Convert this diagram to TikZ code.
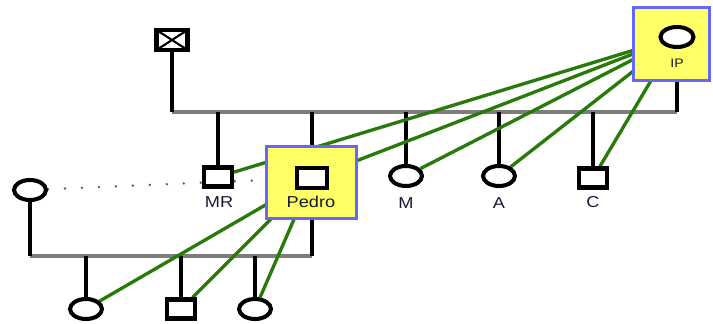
\documentclass[tikz,border=0pt]{standalone}
\usepackage{fontspec}
\setsansfont{Liberation Sans}
\usetikzlibrary{shapes.geometric}
\pgfdeclarelayer{lines}
\pgfdeclarelayer{boxes}
\pgfsetlayers{lines,boxes,main}
\definecolor{boxfill}{RGB}{255,255,102}
\definecolor{boxline}{RGB}{102,102,255}
\definecolor{kingreen}{RGB}{40,122,10}
\definecolor{sibgray}{RGB}{125,125,125}
\definecolor{dotgray}{RGB}{90,90,90}
\definecolor{labeltext}{RGB}{25,25,50}
\newcommand{\wide}[1]{\scalebox{1.15}[1]{#1}}
\begin{document}
\begin{tikzpicture}
		[	x=0.02cm,y=-0.02cm,
		male/.style={rectangle,draw=black,fill=white,line width=2.4pt,minimum width=.56cm,minimum height=.38cm,inner sep=0},
		female/.style={ellipse,draw=black,fill=white,line width=2.3pt,minimum width=.64cm,minimum height=.4cm,inner sep=0},
		dead/.style={male,minimum width=.62cm,minimum height=.4cm,path picture={\draw[line width=1.2pt] (path picture bounding box.north west) -- (path picture bounding box.south east) (path picture bounding box.south west) -- (path picture bounding box.north east);}},
		hilite/.style={rectangle,draw=boxline,fill=boxfill,line width=1.8pt,inner sep=0},
		lbl/.style={font=\sffamily\fontsize{9}{9}\selectfont,text=labeltext,inner sep=0},
		sibline/.style={draw=sibgray,line width=1.8pt},
		drop/.style={draw=black,line width=2.4pt},
		kin/.style={draw=kingreen,line width=1.9pt},
		partner/.style={draw=dotgray,line width=1.5pt,line cap=round,dash pattern=on 0pt off 0.34cm}
		]
		\useasboundingbox (0,0) rectangle (713,324);
		\coordinate (top) at (0,112);
		\coordinate (low) at (0,256);
\begin{pgfonlayer}{boxes}
		\node[hilite,minimum width=1.52cm,minimum height=1.46cm] (ipbox) at (671.5,44) {};
		\node[hilite,minimum width=1.8cm,minimum height=1.44cm] (pedrobox) at (311.5,182.5) {};
\end{pgfonlayer}
		% first family
		\node[dead] (gf) at (172,40) {};
		\node[female,minimum width=.66cm,minimum height=.4cm] (ip) at (677,37) {};
		\node[male] (mr) at (218,177) {};
		\node[male,minimum width=.6cm,minimum height=.4cm] (pedro) at (312,178) {};
		\node[female] (m) at (406,176) {};
		\node[female] (a) at (499,176) {};
		\node[male] (c) at (593,178) {};
		% second family
		\node[female] (wife) at (30,190) {};
		\node[female] (k1) at (86,309) {};
		\node[male] (k2) at (181,309) {};
		\node[female] (k3) at (255,309) {};
\node[lbl,font=\sffamily\fontsize{7}{7}\selectfont] (iplbl) at (677,63){\wide{IP}};
\node[lbl] (mrlbl) at (219,202.5){\wide{MR}};
\node[lbl] (pedrolbl) at (311,202){\wide{Pedro}};
\node[lbl] (mlbl) at (406,203){\wide{M}};
\node[lbl] (albl) at (499,203){\wide{A}};
\node[lbl] (clbl) at (593,202.5){\wide{C}};
\begin{pgfonlayer}{lines}
		\draw[partner] (wife) -- (pedro);
		\draw[sibline] (gf |- top) -- (ip |- top);
		\foreach \p in {gf,mr,pedro,m,a,c,ip} \draw[drop] (\p) -- (\p |- top);
		\draw[sibline] (wife |- low) -- (pedro |- low);
		\foreach \p in {wife,pedro,k1,k2,k3} \draw[drop] (\p) -- (\p |- low);
		\foreach \p in {mr,pedro,m,a,c} \draw[kin] (ip) -- (\p);
		\foreach \p in {k1,k2,k3} \draw[kin] (pedro) -- (\p);
\end{pgfonlayer}
	\end{tikzpicture}
\end{document}
